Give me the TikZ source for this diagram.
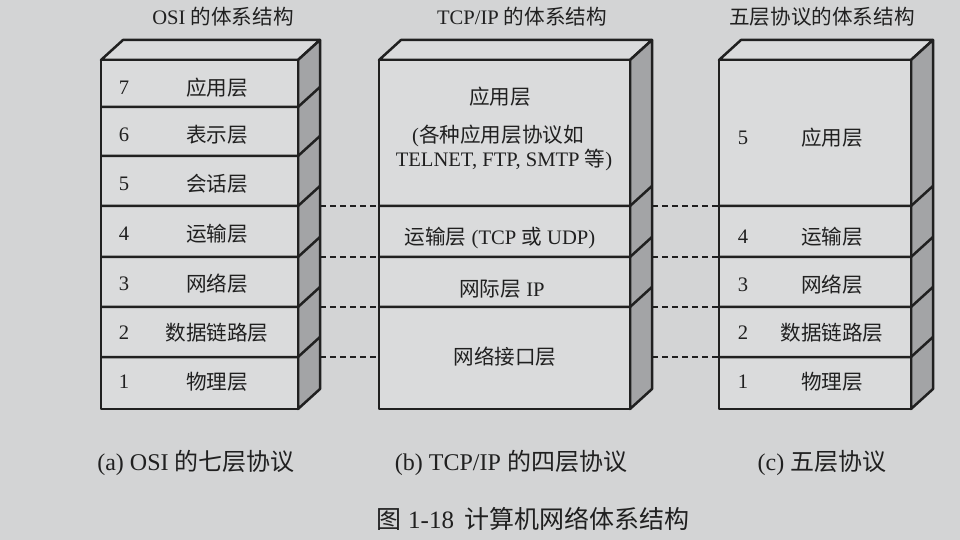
\documentclass[tikz,border=0pt]{standalone}
\usepackage{fontspec}
\setmainfont{Liberation Serif}
\newfontfamily\cjk{Noto Sans CJK SC}
\newcommand{\zh}[1]{{\cjk #1}}
\usepackage{tikz}
\usetikzlibrary{positioning}
\usepackage{xcolor}
\definecolor{paper}{RGB}{211,212,213}
\definecolor{face}{RGB}{218,219,220}
\definecolor{sidegray}{RGB}{163,164,166}
\definecolor{ink}{RGB}{32,32,32}

\tikzset{
	layerbox/.style={draw=ink, fill=face, line width=1.25pt, line join=round},
	sideface/.style={draw=ink, fill=sidegray, line width=1.25pt, line join=round},
	edge/.style={draw=ink, line width=1.25pt},
	dashlink/.style={draw=ink, line width=0.75pt, dash pattern=on 3pt off 2pt},
	smalltext/.style={text=ink, inner sep=0pt, font=\fontsize{10.3}{12}\selectfont},
	captext/.style={text=ink, inner sep=0pt, font=\fontsize{12}{14}\selectfont},
	figtext/.style={text=ink, inner sep=0pt, font=\fontsize{12.5}{15}\selectfont}
}

\begin{document}
\begin{tikzpicture}[x=0.5pt, y=-0.5pt]
	\fill[paper] (0,0) rectangle (960,540);
	\useasboundingbox (0,0) rectangle (960,540);

	% OSI
	\filldraw[layerbox] (101,60) -- ++(22,-20) -- ++(197,0) -- (298,60) -- cycle;
	\filldraw[sideface] (298,60) -- ++(22,-20) -- ++(0,349) -- (298,409) -- cycle;
	\filldraw[layerbox] (101,60) rectangle (298,409);
	\foreach \y in {107,156,206,257,307,357}
		\draw[edge] (101,\y) -- (298,\y) -- ++(22,-20);
	\foreach \n/\y/\t in {7/88/应用层, 6/135/表示层, 5/184/会话层, 4/234/运输层, 3/284/网络层, 2/333/数据链路层, 1/382/物理层} {
		\node[smalltext] (osi\n-num) at (124,\y) {\n};
		\node[smalltext] (osi\n) at (217,\y) {\zh{\t}};
	}

	% TCP/IP
	\filldraw[layerbox] (379,60) -- ++(22,-20) -- ++(251,0) -- (630,60) -- cycle;
	\filldraw[sideface] (630,60) -- ++(22,-20) -- ++(0,349) -- (630,409) -- cycle;
	\filldraw[layerbox] (379,60) rectangle (630,409);
	\foreach \y in {206,257,307}
		\draw[edge] (379,\y) -- (630,\y) -- ++(22,-20);
	\node[smalltext] (tcp-app) at (500,97) {\zh{应用层}};
	\node[smalltext] (tcp-app-a) at (498,136) {(\zh{各种应用层协议如}};
	\node[smalltext] (tcp-app-b) at (504,160) {TELNET, FTP, SMTP \zh{等})};
	\node[smalltext] (tcp-tr) at (500,238) {\zh{运输层} (TCP \zh{或} UDP)};
	\node[smalltext] (tcp-ip) at (502,289) {\zh{网际层} IP};
	\node[smalltext] (tcp-ni) at (505,357) {\zh{网络接口层}};

	% five layers
	\filldraw[layerbox] (719,60) -- ++(22,-20) -- ++(192,0) -- (911,60) -- cycle;
	\filldraw[sideface] (911,60) -- ++(22,-20) -- ++(0,349) -- (911,409) -- cycle;
	\filldraw[layerbox] (719,60) rectangle (911,409);
	\foreach \y in {206,257,307,357}
		\draw[edge] (719,\y) -- (911,\y) -- ++(22,-20);
	\foreach \n/\y/\t in {5/138/应用层, 4/237/运输层, 3/285/网络层, 2/333/数据链路层, 1/382/物理层} {
		\node[smalltext] (five\n-num) at (743,\y) {\n};
		\node[smalltext] (five\n) at (832,\y) {\zh{\t}};
	}

	% dashed links
	\foreach \y [count=\i] in {206,257,307,357} {
		\coordinate (osiR\i) at (320,\y);
		\coordinate (tcpL\i) at (379,\y);
		\coordinate (tcpR\i) at (652,\y);
		\coordinate (fiveL\i) at (719,\y);
		\draw[dashlink] (osiR\i) -- (tcpL\i);
		\draw[dashlink] (tcpR\i) -- (fiveL\i);
	}

	% titles and captions
	\node[smalltext] (osi-title) at (223,17) {OSI \zh{的体系结构}};
	\node[smalltext] (tcp-title) at (522,17) {TCP/IP \zh{的体系结构}};
	\node[smalltext] (five-title) at (822,17) {\zh{五层协议的体系结构}};
	\node[captext] (osi-cap) at (196,463) {(a) OSI \zh{的七层协议}};
	\node[captext] (tcp-cap) at (511,463) {(b) TCP/IP \zh{的四层协议}};
	\node[captext] (five-cap) at (822,463) {(c)\ \zh{五层协议}};
	\node[figtext] (fig-cap) at (533,519) {\zh{图} 1-18\hspace{5pt}\zh{计算机网络体系结构}};
\end{tikzpicture}
\end{document}
